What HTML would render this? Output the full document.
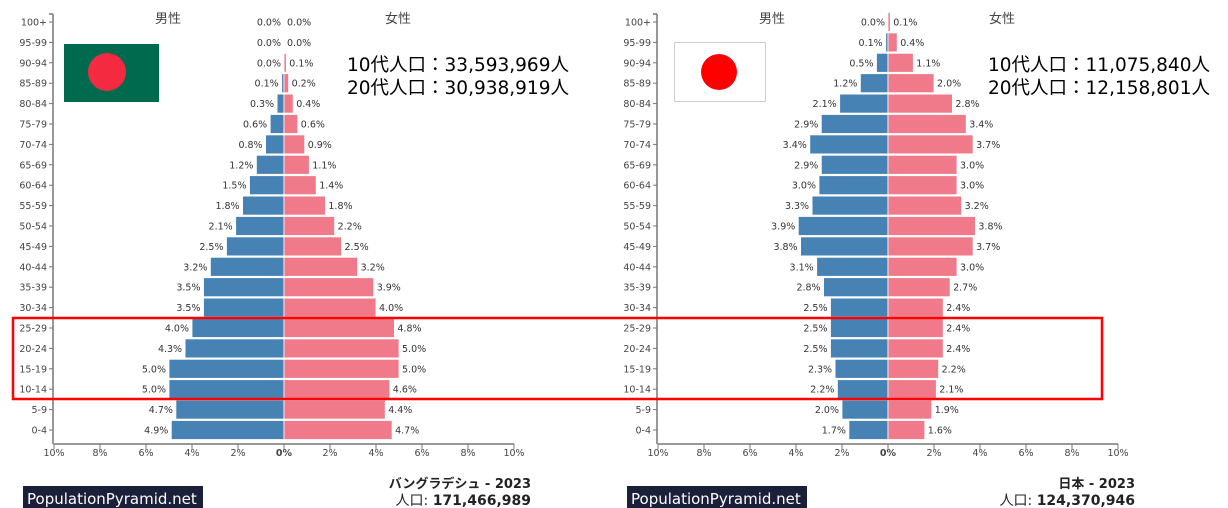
<!DOCTYPE html>
<html><head><meta charset="utf-8"><style>
html,body{margin:0;padding:0;background:#fff;width:1228px;height:508px;overflow:hidden}
svg{display:block}
text{font-family:"DejaVu Sans","Liberation Sans","Noto Sans CJK JP",sans-serif}
</style></head><body>
<svg id="s" width="1228" height="508" xmlns="http://www.w3.org/2000/svg"></svg>
<script>
const S=document.getElementById('s');let h='';
const ages=['100+','95-99','90-94','85-89','80-84','75-79','70-74','65-69','60-64','55-59','50-54','45-49','40-44','35-39','30-34','25-29','20-24','15-19','10-14','5-9','0-4'];
function chart(cx,m,f,axL,title,pop,ann,annX){
 const u=23, y0=22, dy=20.4;
 h+=`<line x1="${axL}" y1="14" x2="${axL}" y2="444" stroke="#777" stroke-width="1.5"/>`;
 h+=`<line x1="${axL-4}" y1="14" x2="${axL}" y2="14" stroke="#777" stroke-width="1.5"/>`;
 h+=`<line x1="${cx-230}" y1="444" x2="${cx+230}" y2="444" stroke="#777" stroke-width="1.5"/>`;
 for(let i=-5;i<=5;i++){const x=cx+i*2*u;h+=`<line x1="${x}" y1="444" x2="${x}" y2="449" stroke="#777"/><text x="${x}" y="456" font-size="9.5" fill="#444" text-anchor="middle"${i==0?' font-weight="bold"':''}>${Math.abs(i*2)}%</text>`;}
 for(let i=0;i<21;i++){const y=y0+i*dy;
  h+=`<line x1="${axL-4}" y1="${y}" x2="${axL}" y2="${y}" stroke="#777"/><text x="${axL-6}" y="${y+3.5}" font-size="9.5" fill="#444" text-anchor="end">${ages[i]}</text>`;
  const wm=m[i]*u, wf=f[i]*u;
  h+=`<rect x="${cx-wm}" y="${y-9.5}" width="${wm}" height="19" fill="#4682b4" stroke="#fff" stroke-width="0.8"/>`;
  h+=`<rect x="${cx}" y="${y-9.5}" width="${wf}" height="19" fill="#f07a89" stroke="#fff" stroke-width="0.8"/>`;
  h+=`<text x="${cx-wm-3}" y="${y+3.5}" font-size="9.5" fill="#333" text-anchor="end">${m[i].toFixed(1)}%</text>`;
  h+=`<text x="${cx+wf+3}" y="${y+3.5}" font-size="9.5" fill="#333">${f[i].toFixed(1)}%</text>`;
 }
 h+=`<text x="${cx-116}" y="23" font-size="13" fill="#444" text-anchor="middle">男性</text><text x="${cx+114}" y="23" font-size="13" fill="#444" text-anchor="middle">女性</text>`;
 h+=`<text x="${annX}" y="71" font-size="18.5" fill="#000">10代人口：${ann[0]}人</text><text x="${annX}" y="94" font-size="18.5" fill="#000">20代人口：${ann[1]}人</text>`;
 h+=`<rect x="${cx-261}" y="486" width="180" height="22" fill="#1a1f3a"/><text x="${cx-257}" y="504" font-size="15" fill="#fff">PopulationPyramid.net</text>`;
 h+=`<text x="${cx+247}" y="488" font-size="13" font-weight="bold" fill="#222" text-anchor="end">${title} - 2023</text>`;
 h+=`<text x="${cx+247}" y="505" font-size="14" fill="#222" text-anchor="end">人口: <tspan font-weight="bold">${pop}</tspan></text>`;
}
chart(284,[0,0,0,0.1,0.3,0.6,0.8,1.2,1.5,1.8,2.1,2.5,3.2,3.5,3.5,4.0,4.3,5.0,5.0,4.7,4.9],
 [0,0,0.1,0.2,0.4,0.6,0.9,1.1,1.4,1.8,2.2,2.5,3.2,3.9,4.0,4.8,5.0,5.0,4.6,4.4,4.7],53,'バングラデシュ','171,466,989',['33,593,969','30,938,919'],347);
chart(888,[0,0.1,0.5,1.2,2.1,2.9,3.4,2.9,3.0,3.3,3.9,3.8,3.1,2.8,2.5,2.5,2.5,2.3,2.2,2.0,1.7],
 [0.1,0.4,1.1,2.0,2.8,3.4,3.7,3.0,3.0,3.2,3.8,3.7,3.0,2.7,2.4,2.4,2.4,2.2,2.1,1.9,1.6],657,'日本','124,370,946',['11,075,840','12,158,801'],988);
h+=`<rect x="64" y="44" width="95" height="58" fill="#006a4e"/><circle cx="107" cy="72" r="19" fill="#f42a41"/>`;
h+=`<rect x="674.5" y="42.5" width="91" height="59" fill="#fff" stroke="#ccc"/><circle cx="719" cy="72" r="18" fill="#f00"/>`;
h+=`<rect x="13" y="318" width="1089" height="81" fill="none" stroke="#f00" stroke-width="2.5"/>`;
S.innerHTML=h;
</script>
</body></html>
